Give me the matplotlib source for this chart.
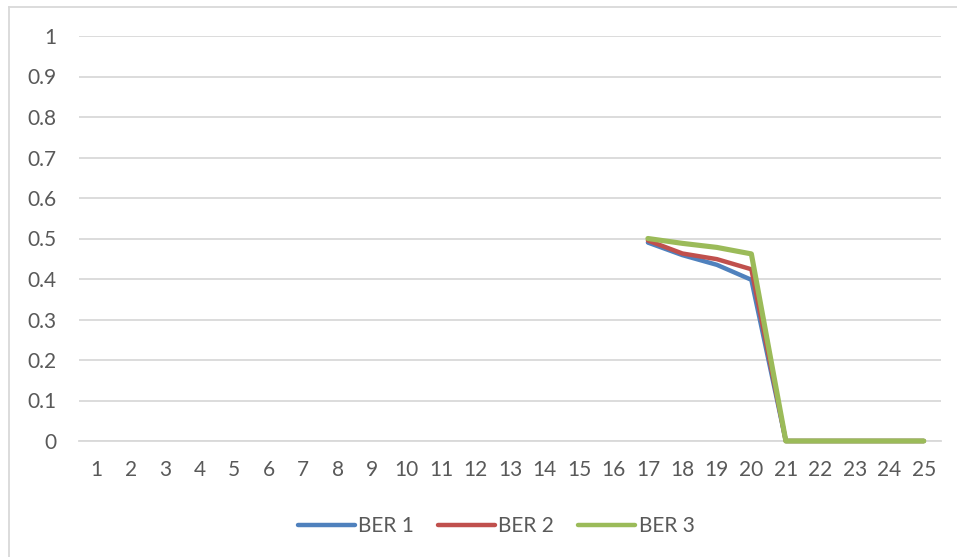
import matplotlib.pyplot as plt
from matplotlib.lines import Line2D

# BER per test index; missing (None) for the first 16 points
categories = list(range(1, 26))
ber1 = [None] * 16 + [0.49, 0.459, 0.435, 0.398, 0, 0, 0, 0, 0]
ber2 = [None] * 16 + [0.495, 0.463, 0.449, 0.424, 0, 0, 0, 0, 0]
ber3 = [None] * 16 + [0.50, 0.488, 0.478, 0.462, 0, 0, 0, 0, 0]
y_ticks = [0, 0.1, 0.2, 0.3, 0.4, 0.5, 0.6, 0.7, 0.8, 0.9, 1]
y_labels = ['0', '0.1', '0.2', '0.3', '0.4', '0.5', '0.6', '0.7', '0.8', '0.9', '1']

plt.rcParams['font.family'] = ['Lato', 'DejaVu Sans']
text_color = '#595959'
grid_color = '#D9D9D9'
fs = 15

fig = plt.figure(figsize=(9.57, 5.57), dpi=100)
ax = fig.add_axes([79 / 957, 1 - 441 / 557, (941 - 79) / 957, (441 - 36) / 557])

def as_float(vals):
    return [float('nan') if v is None else v for v in vals]

x = list(range(len(categories)))
series = [('BER 1', ber1, '#4F81BD', 3.2),
          ('BER 2', ber2, '#C0504D', 3.2),
          ('BER 3', ber3, '#9BBB59', 3.7)]
for name, vals, color, lw in series:
    ax.plot(x, as_float(vals), color=color, lw=lw, solid_capstyle='round',
            solid_joinstyle='round', clip_on=False, zorder=3, label=name)

ax.set_xlim(-0.5, len(categories) - 0.5)
ax.set_ylim(0, 1)
ax.set_yticks(y_ticks)
ax.set_yticklabels(y_labels)
ax.set_xticks(x)
ax.set_xticklabels([str(c) for c in categories])
ax.grid(axis='y', color=grid_color, lw=1.3)
ax.set_axisbelow(True)
for side in ['top', 'right', 'left']:
    ax.spines[side].set_visible(False)
ax.spines['bottom'].set_color(grid_color)
ax.spines['bottom'].set_linewidth(1.3)
ax.tick_params(length=0, colors=text_color, labelsize=fs)
ax.tick_params(axis='y', pad=16)
ax.tick_params(axis='x', pad=14)

handles = [Line2D([0], [0], color=c, lw=3.2, solid_capstyle='round') for _, _, c, _ in series]
fig.legend(handles, [s[0] for s in series], loc='center', bbox_to_anchor=(496 / 957, 1 - 526 / 557),
           ncol=3, frameon=False, fontsize=fs, labelcolor=text_color,
           handlelength=2.75, handletextpad=0.15, columnspacing=1.15)

# chart area frame (left and top edges)
fig.add_artist(Line2D([8.5 / 957, 8.5 / 957], [0, 1 - 6.5 / 557], color=grid_color, lw=1.3))
fig.add_artist(Line2D([8.5 / 957, 1], [1 - 6.5 / 557, 1 - 6.5 / 557], color=grid_color, lw=1.3))

fig.savefig('out.png', dpi=100, facecolor='white')
